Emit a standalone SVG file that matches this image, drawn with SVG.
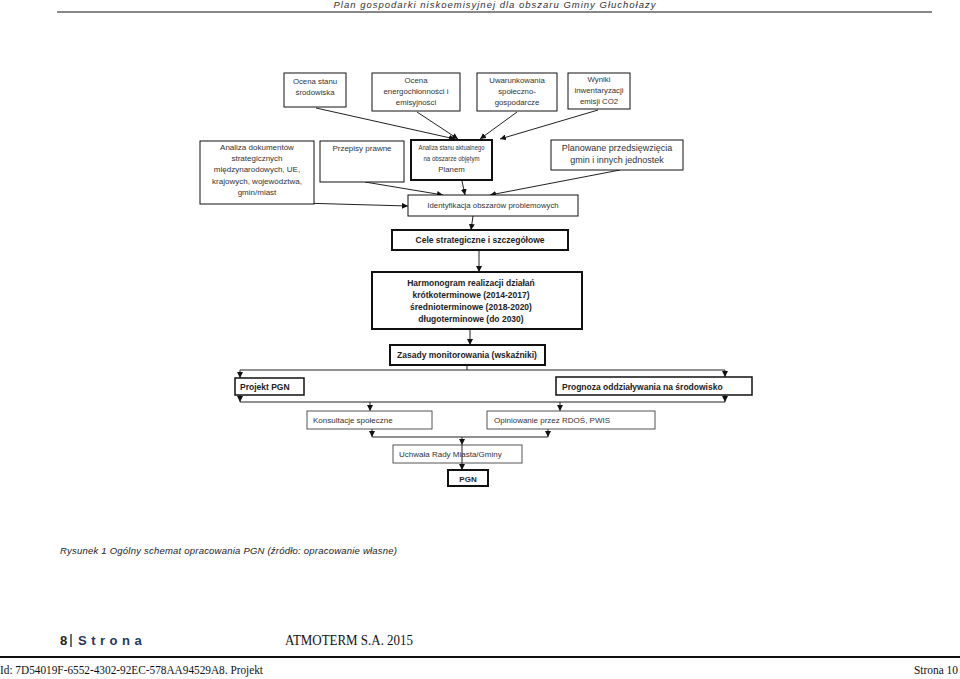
<svg xmlns="http://www.w3.org/2000/svg" width="960" height="679" viewBox="0 0 960 679">
<style>
.bx{fill:#fff;stroke:#111;stroke-width:1}
.bt{fill:#fff;stroke:#111;stroke-width:2}
.bg{fill:#fff;stroke:#555;stroke-width:1}
.t{font-family:"Liberation Sans",Arial,sans-serif;font-size:7.8px;fill:#333;text-anchor:middle}
.tl{font-family:"Liberation Sans",Arial,sans-serif;font-size:8px;fill:#333}
.tb{font-family:"Liberation Sans",Arial,sans-serif;font-size:8.5px;font-weight:bold;fill:#222}
.c{fill:none;stroke:#222;stroke-width:1}
</style>
<defs>
<marker id="ah" markerWidth="6" markerHeight="6" refX="6" refY="3" orient="auto" markerUnits="userSpaceOnUse">
<path d="M0,0 L6,3 L0,6 z" fill="#111"/>
</marker>
</defs>
<rect width="960" height="679" fill="#fff"/>
<text x="495" y="8" style="font-family:'Liberation Sans',Arial,sans-serif;font-style:italic;font-size:9.5px;letter-spacing:1px;fill:#333" text-anchor="middle">Plan gospodarki niskoemisyjnej dla obszaru Gminy Głuchołazy</text>
<line x1="57" y1="12" x2="932" y2="12" stroke="#111" stroke-width="1"/>

<g id="connectors">
<path class="c" d="M316,108 L455,139" marker-end="url(#ah)"/>
<path class="c" d="M417,112 L458,139" marker-end="url(#ah)"/>
<path class="c" d="M517,112 L480,139" marker-end="url(#ah)"/>
<path class="c" d="M598,110 L500,139" marker-end="url(#ah)"/>
<path class="c" d="M300,203 L408,206" marker-end="url(#ah)"/>
<path class="c" d="M365,182 L443,195" marker-end="url(#ah)"/>
<path class="c" d="M462,181 L465,195" marker-end="url(#ah)"/>
<path class="c" d="M620,170 L490,195" marker-end="url(#ah)"/>
<path class="c" d="M473,216 L471,230" marker-end="url(#ah)"/>
<path class="c" d="M479,251 L479,272" marker-end="url(#ah)"/>
<path class="c" d="M470,330 L470,345" marker-end="url(#ah)"/>
<path class="c" d="M467,366 L467,370 M240,370 L725,370"/>
<path class="c" d="M240,370 L240,378" marker-end="url(#ah)"/>
<path class="c" d="M725,370 L725,377" marker-end="url(#ah)"/>
<path class="c" d="M240,395 L240,402" marker-end="url(#ah)"/>
<path class="c" d="M725,395 L725,402" marker-end="url(#ah)"/>
<path class="c" d="M240,402 L725,402"/>
<path class="c" d="M370,402 L370,411" marker-end="url(#ah)"/>
<path class="c" d="M560,402 L560,411" marker-end="url(#ah)"/>
<path class="c" d="M372,429 L372,437" marker-end="url(#ah)"/>
<path class="c" d="M548,429 L548,437" marker-end="url(#ah)"/>
<path class="c" d="M372,437 L548,437"/>
<path class="c" d="M462,437 L462,445" marker-end="url(#ah)"/>
</g>

<g id="n1"><rect class="bx" x="284" y="73" width="62" height="34"/>
<text class="t" x="315" y="84">Ocena stanu</text><text class="t" x="315" y="95">środowiska</text></g>
<g id="n2"><rect class="bx" x="372" y="73" width="88" height="38"/>
<text class="t" x="416" y="83">Ocena</text><text class="t" x="416" y="94">energochłonności i</text><text class="t" x="416" y="105">emisyjności</text></g>
<g id="n3"><rect class="bx" x="477" y="73" width="80" height="38"/>
<text class="t" x="517" y="83">Uwarunkowania</text><text class="t" x="517" y="94">społeczno-</text><text class="t" x="517" y="105">gospodarcze</text></g>
<g id="n4"><rect class="bx" x="568" y="73" width="62" height="36"/>
<text class="t" x="599" y="82">Wyniki</text><text class="t" x="599" y="93">inwentaryzacji</text><text class="t" x="599" y="104">emisji CO2</text></g>

<g id="n5"><rect class="bx" x="200" y="141" width="114" height="63"/>
<text class="t" x="257" y="150" style="font-size:8px">Analiza dokumentów</text><text class="t" x="257" y="161" style="font-size:8px">strategicznych</text><text class="t" x="257" y="172" style="font-size:8px">międzynarodowych, UE,</text><text class="t" x="257" y="184" style="font-size:8px">krajowych, województwa,</text><text class="t" x="257" y="195" style="font-size:8px">gmin/miast</text></g>
<g id="n6"><rect class="bx" x="320" y="141" width="84" height="41"/>
<text class="t" x="362" y="151" style="font-size:8px">Przepisy prawne</text></g>
<g id="n7"><rect class="bt" x="411" y="140" width="81" height="40"/>
<text class="t" x="451.5" y="150" textLength="66" lengthAdjust="spacingAndGlyphs">Analiza stanu aktualnego</text><text class="t" x="451.5" y="161" textLength="56" lengthAdjust="spacingAndGlyphs">na obszarze objętym</text><text class="t" x="451.5" y="172">Planem</text></g>
<g id="n8"><rect class="bx" x="551" y="140" width="132" height="30"/>
<text class="t" x="617" y="151" style="font-size:9px">Planowane przedsięwzięcia</text><text class="t" x="617" y="163" style="font-size:9px">gmin i innych jednostek</text></g>
<g id="n9"><rect class="bx" x="408" y="195" width="170" height="21"/>
<text class="t" x="493" y="208">Identyfikacja obszarów problemowych</text></g>
<g id="n10"><rect class="bt" x="392" y="230" width="176" height="20"/>
<text class="tb" x="480" y="243" text-anchor="middle">Cele strategiczne i szczegółowe</text></g>
<g id="n11"><rect class="bt" x="372" y="272" width="210" height="57"/>
<text class="tb" x="471" y="286" text-anchor="middle">Harmonogram realizacji działań</text>
<text class="tb" x="471" y="298" text-anchor="middle">krótkoterminowe  (2014-2017)</text>
<text class="tb" x="471" y="310" text-anchor="middle">średnioterminowe (2018-2020)</text>
<text class="tb" x="471" y="322" text-anchor="middle">długoterminowe (do 2030)</text></g>
<g id="n12"><rect class="bt" x="390" y="345" width="155" height="20"/>
<text class="tb" x="467" y="358" text-anchor="middle">Zasady monitorowania (wskaźniki)</text></g>
<g id="n13"><rect class="bt" x="235" y="378" width="69" height="17" style="stroke-width:1.5"/>
<text class="tb" x="240" y="390">Projekt PGN</text></g>
<g id="n14"><rect class="bt" x="556" y="377" width="196" height="18" style="stroke-width:1.5"/>
<text class="tb" x="562" y="389.5">Prognoza oddziaływania na środowisko</text></g>
<g id="n15"><rect class="bg" x="307" y="411" width="125" height="18"/>
<text class="tl" x="313" y="423">Konsultacje społeczne</text></g>
<g id="n16"><rect class="bg" x="487" y="411" width="168" height="18"/>
<text class="tl" x="494" y="423">Opiniowanie przez RDOŚ, PWIS</text></g>
<g id="n17"><rect class="bg" x="393" y="445" width="129" height="18"/>
<text class="tl" x="399" y="457">Uchwała Rady Miasta/Gminy</text>
<path class="c" d="M462,445 L462,470" marker-end="url(#ah)"/></g>
<g id="n18"><rect class="bt" x="448" y="470" width="40" height="16"/>
<text class="tb" x="468" y="481.5" text-anchor="middle" style="font-size:8px">PGN</text></g>

<text x="60" y="554" textLength="337" lengthAdjust="spacing" style="font-family:'Liberation Sans',Arial,sans-serif;font-style:italic;font-size:9.5px;fill:#222">Rysunek 1  Ogólny schemat opracowania PGN (źródło: opracowanie własne)</text>

<text x="60" y="645" style="font-family:'Liberation Sans',Arial,sans-serif;font-weight:bold;font-size:13px;fill:#222">8</text>
<line x1="71" y1="634" x2="71" y2="647" stroke="#222" stroke-width="1.3"/>
<text x="78" y="645" style="font-family:'Liberation Sans',Arial,sans-serif;font-weight:bold;font-size:13px;letter-spacing:4.5px;fill:#1f3864">Strona</text>
<text x="285" y="645" textLength="128" lengthAdjust="spacingAndGlyphs" style="font-family:'Liberation Serif','Times New Roman',serif;font-size:14px;fill:#111">ATMOTERM S.A. 2015</text>
<line x1="0" y1="657" x2="960" y2="657" stroke="#111" stroke-width="2"/>
<text x="0" y="674" textLength="263" lengthAdjust="spacingAndGlyphs" style="font-family:'Liberation Serif','Times New Roman',serif;font-size:12px;fill:#111">Id: 7D54019F-6552-4302-92EC-578AA94529A8. Projekt</text>
<text x="914" y="674" textLength="44" lengthAdjust="spacingAndGlyphs" style="font-family:'Liberation Serif','Times New Roman',serif;font-size:12px;fill:#111">Strona 10</text>
</svg>
